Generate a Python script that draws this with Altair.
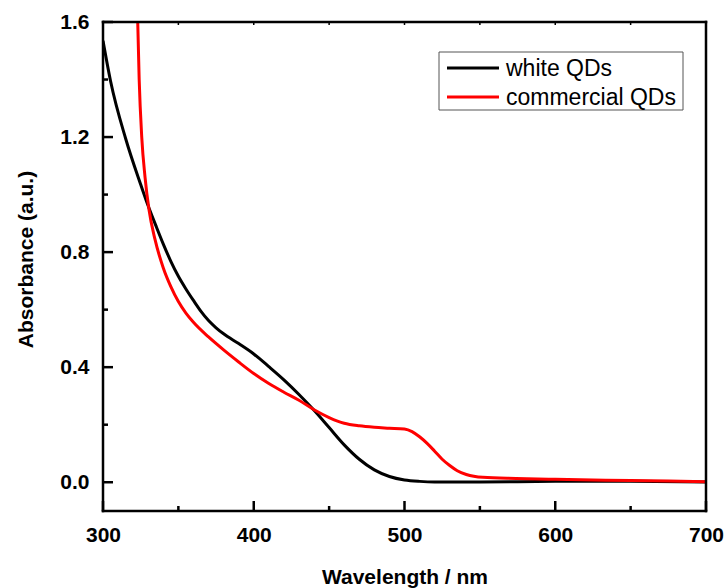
import altair as alt
import pandas as pd

# ---- data ----
wl_white = [300, 305, 315, 325, 330, 335, 340, 345, 350, 355, 360, 365, 370, 375, 380,
            390, 400, 410, 420, 430, 440, 450, 460, 470, 480, 490, 500, 510, 520,
            550, 600, 650, 700]
abs_white = [1.535, 1.395, 1.195, 1.035, 0.96, 0.893, 0.828, 0.768, 0.716, 0.672,
             0.632, 0.594, 0.562, 0.537, 0.516, 0.482, 0.446, 0.402, 0.356, 0.305,
             0.25, 0.19, 0.13, 0.08, 0.043, 0.02, 0.008, 0.003, 0.001, 0.001, 0.003,
             0.003, 0.001]

wl_comm = [322.8, 324, 325.7, 327.9, 330.5, 334.5, 340, 345, 350, 355, 360, 370, 380,
           390, 400, 410, 420, 430, 440, 450, 460, 470, 480, 490, 500, 505, 510, 515,
           520, 525, 530, 535, 541, 552, 574, 600, 650, 700]
abs_comm = [1.65, 1.40, 1.20, 1.06, 0.948, 0.844, 0.745, 0.68, 0.628, 0.588, 0.556,
            0.505, 0.46, 0.418, 0.378, 0.343, 0.313, 0.285, 0.252, 0.225, 0.205,
            0.196, 0.191, 0.188, 0.185, 0.176, 0.158, 0.135, 0.108, 0.08, 0.058,
            0.04, 0.027, 0.017, 0.013, 0.01, 0.006, 0.002]

series_names = ["white QDs", "commercial QDs"]
series_colors = ["#000000", "#ff0000"]

x_major = [300, 400, 500, 600, 700]
x_minor = [350, 450, 550, 650]
y_major = [0.0, 0.4, 0.8, 1.2, 1.6]
y_minor = [0.2, 0.6, 1.0, 1.4]

W, H = 603, 489
FONT = "Liberation Sans"

df_white = pd.DataFrame({"wavelength": wl_white, "absorbance": abs_white})
df_comm = pd.DataFrame({"wavelength": wl_comm, "absorbance": abs_comm})

xscale = alt.Scale(domain=[300, 700], nice=False, zero=False)
yscale = alt.Scale(domain=[-0.1, 1.6], nice=False, zero=False)

x_axis = alt.Axis(values=x_major, title="Wavelength / nm", ticks=False, domain=False,
                  grid=False, labelPadding=13, labelFontSize=21, labelFontWeight="bold",
                  labelFont=FONT, labelColor="black", labelFlush=False, labelOverlap=False,
                  titleFont=FONT, titleFontSize=21, titleFontWeight="bold",
                  titleColor="black", titleBaseline="alphabetic", titleY=72)
y_axis = alt.Axis(values=y_major, format=".1f", title="Absorbance (a.u.)", ticks=False,
                  domain=False, grid=False, labelPadding=14, labelFontSize=21,
                  labelFontWeight="bold", labelFont=FONT, labelColor="black",
                  labelFlush=False, labelOverlap=False,
                  titleFont=FONT, titleFontSize=21, titleFontWeight="bold",
                  titleColor="black", titleBaseline="alphabetic", titleX=-71, titleY=237)

line_white = alt.Chart(df_white).mark_line(
    strokeWidth=3, interpolate="monotone", clip=True, color=series_colors[0]
).encode(
    x=alt.X("wavelength:Q", scale=xscale, axis=x_axis),
    y=alt.Y("absorbance:Q", scale=yscale, axis=y_axis),
)
line_comm = alt.Chart(df_comm).mark_line(
    strokeWidth=3, interpolate="monotone", clip=True, color=series_colors[1]
).encode(
    x=alt.X("wavelength:Q", scale=xscale, axis=x_axis),
    y=alt.Y("absorbance:Q", scale=yscale, axis=y_axis),
)

# ---- inward ticks ----
def xticks(vals, y0, y1, w=2.5):
    return alt.Chart(pd.DataFrame({"wavelength": vals})).mark_rule(
        color="black", strokeWidth=w).encode(
        x=alt.X("wavelength:Q", scale=xscale, axis=x_axis),
        y=alt.value(y0), y2=alt.value(y1))

def yticks(vals, x0, x1, w=2.5):
    return alt.Chart(pd.DataFrame({"absorbance": vals})).mark_rule(
        color="black", strokeWidth=w).encode(
        y=alt.Y("absorbance:Q", scale=yscale, axis=y_axis),
        x=alt.value(x0), x2=alt.value(x1))

ticks = [
    xticks(x_major, H, H - 10),
    xticks(x_minor, H, H - 5),
    xticks(x_major + x_minor, 0, 3, 1.5),
    yticks(y_major, 0, 10),
    yticks(y_minor, 0, 5),
]

# ---- legend ----
leg_df = pd.DataFrame({"name": series_names, "color": series_colors})
legend_box = alt.Chart(leg_df.head(1)).mark_rect(
    fill="white", stroke="#555555", strokeWidth=1
).encode(x=alt.value(336), x2=alt.value(580), y=alt.value(30), y2=alt.value(88))

legend_layers = [legend_box]
for i, ypix in enumerate([46, 75]):
    row = leg_df.iloc[[i]]
    legend_layers.append(
        alt.Chart(row).mark_rule(strokeWidth=3, color=series_colors[i]).encode(
            x=alt.value(344), x2=alt.value(396), y=alt.value(ypix)))
    legend_layers.append(
        alt.Chart(row).mark_text(align="left", baseline="middle", fontSize=23,
                                 font=FONT, color="black").encode(
            x=alt.value(403), y=alt.value(ypix + 1), text="name:N"))

# ---- plot frame (four rules) ----
one = leg_df.head(1)
frame_style = dict(color="black", strokeWidth=2.5, strokeCap="square")
frame = [
    alt.Chart(one).mark_rule(**frame_style).encode(
        x=alt.value(0), x2=alt.value(W), y=alt.value(0)),
    alt.Chart(one).mark_rule(**frame_style).encode(
        x=alt.value(0), x2=alt.value(W), y=alt.value(H)),
    alt.Chart(one).mark_rule(**frame_style).encode(
        x=alt.value(0), y=alt.value(0), y2=alt.value(H)),
    alt.Chart(one).mark_rule(**frame_style).encode(
        x=alt.value(W), y=alt.value(0), y2=alt.value(H)),
]

chart = alt.layer(
    line_white, line_comm, *ticks, *legend_layers, *frame
).properties(
    width=W, height=H,
    background="white",
    padding={"left": 103, "top": 22, "right": 20, "bottom": 77},
    autosize=alt.AutoSizeParams(type="none"),
).configure_view(
    strokeWidth=0
)

chart.save("out.html", embed_options={"renderer": "svg", "actions": False})
